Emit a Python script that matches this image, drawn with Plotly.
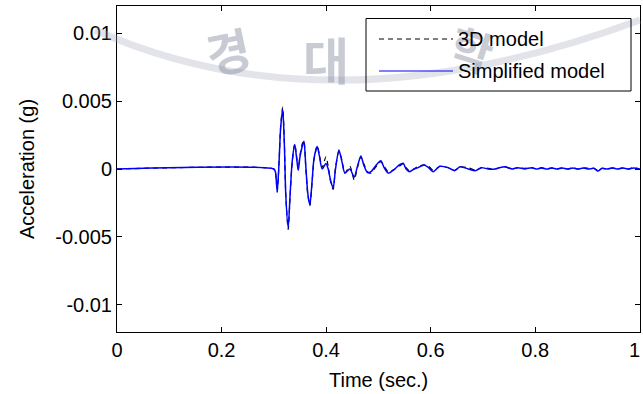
import plotly.graph_objects as go

# ---- data ----
time_s = [0.000, 0.300, 0.303, 0.3065, 0.310, 0.313, 0.317, 0.320, 0.323, 0.3275,
          0.331, 0.335, 0.340, 0.343, 0.3467, 0.350, 0.354, 0.3576, 0.361, 0.365,
          0.369, 0.373, 0.377, 0.383, 0.387, 0.3925, 0.3996, 0.404, 0.409, 0.4136,
          0.418, 0.4245, 0.430, 0.436, 0.4455, 0.4537, 0.460, 0.4665, 0.472, 0.4793,
          0.486, 0.492, 0.4985, 0.5048, 0.511, 0.519, 0.5315, 0.540, 0.5475, 0.553,
          0.560, 0.568, 0.576, 0.5876, 0.596, 0.605, 0.6176, 0.6335, 0.646, 0.656,
          0.672, 0.686, 0.697, 0.710, 0.723, 0.732, 0.742, 0.756, 0.767, 0.780,
          0.793, 0.803, 0.812, 0.822, 0.832, 0.842, 0.852, 0.862, 0.872, 0.882,
          0.892, 0.902, 0.912, 0.920, 0.928, 0.938, 0.948, 0.958, 0.968, 0.978,
          0.988, 1.000]

acc_simplified = [0, 0, -0.0002, -0.00167, 0.0005, 0.0030, 0.00440, 0.0020, -0.0020, -0.00430,
                  -0.0020, 0.0005, 0.00180, 0.0010, -0.0001, 0.0009, 0.0016, 0.00205, 0.0003, -0.0018,
                  -0.00265, -0.0010, 0.0008, 0.00165, 0.0010, 0.0000, 0.0004, 0.0000, -0.0009, -0.0014,
                  0.0000, 0.0014, 0.0006, -0.0003, 0.0000, -0.0006, 0.0002, 0.00096, 0.0003, -0.00027,
                  -0.0002, 0.0001, 0.0004, 0.0006, 0.0001, -0.0003, 0.0000, 0.0003, 0.00042, 0.0000,
                  -0.0002, 0.0000, 0.0001, 0.0003, 0.0001, -0.0002, 0.0002, 0.0001, -0.00012, 0.00017,
                  0.0000, -0.00012, 0.0001, 0.0000, 0.0000, 0.0001, 0.00017, 0.0000, 0.0001, 0.0000,
                  0.0001, 0.0000, 0.00008, 0.0000, 0.00008, 0.0000, 0.00008, 0.0000, 0.00008, 0.0000,
                  0.00008, 0.0000, 0.00005, -0.00015, 0.00005, 0.0000, 0.00008, 0.0000, 0.00008, 0.0000,
                  0.00008, 0.0000]

acc_3d = [0, 0, -0.0002, -0.0017, 0.0005, 0.0031, 0.00455, 0.0021, -0.0020, -0.00445,
          -0.0021, 0.0004, 0.00185, 0.0011, 0.0000, 0.0010, 0.0018, 0.0021, 0.0002, -0.0019,
          -0.0027, -0.0011, 0.0007, 0.0017, 0.0011, 0.0001, 0.0009, 0.0002, -0.0010, -0.0015,
          0.0001, 0.0013, 0.0007, -0.0003, 0.0002, -0.0008, 0.0001, 0.0009, 0.0004, -0.0002,
          -0.0003, 0.0000, 0.0003, 0.00055, 0.0002, -0.0002, 0.0000, 0.0002, 0.0004, 0.0001,
          -0.00015, 0.0000, 0.0002, 0.0003, 0.0002, -0.0001, 0.0002, 0.0001, -0.0001, 0.00015,
          0.0001, -0.0001, 0.0001, 0.00005, 0.0000, 0.0001, 0.00015, 0.0000, 0.0001, 0.00005,
          0.0001, 0.0000, 0.0001, 0.0000, 0.00008, 0.00003, 0.00008, 0.0000, 0.0001, 0.0000,
          0.00008, 0.00005, 0.00005, -0.0001, 0.00005, 0.0000, 0.00008, 0.00003, 0.00008, 0.0000,
          0.0001, 0.0000]

x_ticks = [0, 0.2, 0.4, 0.6, 0.8, 1.0]
x_tick_labels = ["0", "0.2", "0.4", "0.6", "0.8", "1"]
y_ticks = [0.01, 0.005, 0, -0.005, -0.01]
y_tick_labels = ["0.01", "0.005", "0", "-0.005", "-0.01"]
series_names = ["3D model", "Simplified model"]

FONT = "Liberation Sans, Arial, sans-serif"

fig = go.Figure()
fig.add_trace(go.Scatter(x=time_s, y=acc_3d, mode="lines", name=series_names[0],
                         line=dict(color="black", width=1.2, dash="5px,4px",
                                   shape="spline", smoothing=0.7),
                         showlegend=False))
fig.add_trace(go.Scatter(x=time_s, y=acc_simplified, mode="lines", name=series_names[1],
                         line=dict(color="#0000ff", width=1.5, shape="spline", smoothing=0.7),
                         showlegend=False))

W, H = 643, 394
L, R, T, B = 117, 3, 6, 62
pw, ph = W - L - R, H - T - B


def px(x):
    return (x - L) / pw


def py(y):
    return (H - B - y) / ph


shapes = []
annotations = []

# watermark (faint)
wm = "rgba(135,140,160,0.45)"
shapes.append(dict(type="path", xref="paper", yref="paper",
                   path=f"M {px(95)} {py(30)} Q {px(330)} {py(135)} {px(640)} {py(20)}",
                   line=dict(color="rgba(160,165,185,0.30)", width=7), layer="above"))
for ch, cx, cy, sz, ang in [("경", 228, 50, 48, -12),
                            ("대", 326, 58, 50, 0),
                            ("학", 472, 48, 46, 18)]:
    annotations.append(dict(text=f"<b>{ch}</b>", x=px(cx), y=py(cy), xref="paper", yref="paper",
                            showarrow=False, textangle=ang,
                            font=dict(family="Noto Sans CJK KR", size=sz, color=wm),
                            xanchor="center", yanchor="middle"))

# legend box drawn manually (MATLAB style)
shapes.append(dict(type="rect", xref="paper", yref="paper",
                   x0=px(366), x1=px(631), y0=py(91), y1=py(18.5),
                   line=dict(color="black", width=1), fillcolor="rgba(255,255,255,0)"))
shapes.append(dict(type="line", xref="paper", yref="paper",
                   x0=px(379), x1=px(453), y0=py(39), y1=py(39),
                   line=dict(color="black", width=1, dash="5px,4px")))
shapes.append(dict(type="line", xref="paper", yref="paper",
                   x0=px(379), x1=px(453), y0=py(71), y1=py(71),
                   line=dict(color="#0000ff", width=1)))
for name, yy in zip(series_names, [39, 71]):
    annotations.append(dict(text=name, x=px(456), y=py(yy), xref="paper", yref="paper",
                            showarrow=False, xanchor="left", yanchor="middle",
                            font=dict(family=FONT, size=20, color="black")))

# last x tick label, nudged so it stays inside the page
annotations.append(dict(text=x_tick_labels[-1], x=x_ticks[-1], xref="x", y=py(350), yref="paper",
                        showarrow=False, xanchor="right", yanchor="middle", xshift=2,
                        font=dict(family=FONT, size=20, color="black")))

# axis titles
annotations.append(dict(text="Time (sec.)", x=0.5, y=py(380), xref="paper", yref="paper",
                        showarrow=False, xanchor="center", yanchor="middle",
                        font=dict(family=FONT, size=20, color="black")))
annotations.append(dict(text="Acceleration (g)", x=px(27), y=0.5, xref="paper", yref="paper",
                        showarrow=False, xanchor="center", yanchor="middle", textangle=-90,
                        font=dict(family=FONT, size=20, color="black")))

fig.update_layout(
    width=W, height=H,
    margin=dict(l=L, r=R, t=T, b=B, pad=0, autoexpand=False),
    paper_bgcolor="white", plot_bgcolor="white",
    font=dict(family=FONT, size=20, color="black"),
    shapes=shapes, annotations=annotations,
    showlegend=False,
)
fig.update_xaxes(range=[0, 1.0005], tickvals=x_ticks, ticktext=x_tick_labels[:-1] + [""],
                 ticks="inside", ticklen=5, tickcolor="black",
                 automargin=False,
                 showline=True, linecolor="black", linewidth=1, mirror="ticks",
                 showgrid=False, zeroline=False, tickfont=dict(size=20))
fig.update_yaxes(range=[-0.012, 0.012], tickvals=y_ticks, ticktext=y_tick_labels,
                 ticks="inside", ticklen=5, tickcolor="black", automargin=False,
                 showline=True, linecolor="black", linewidth=1, mirror="ticks",
                 showgrid=False, zeroline=False, tickfont=dict(size=20))

fig.write_html("out.html")
